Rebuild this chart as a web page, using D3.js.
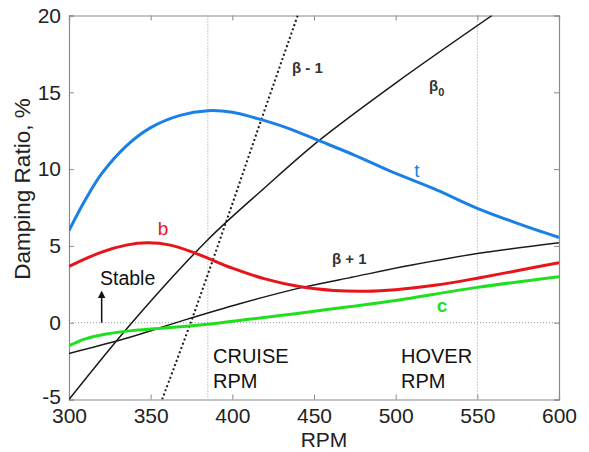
<!DOCTYPE html>
<html>
<head>
<meta charset="utf-8">
<script src="https://cdn.jsdelivr.net/npm/d3@7"></script>
<style>
  html, body { margin: 0; padding: 0; background: #fff; }
  svg { display: block; font-family: "Liberation Sans", Arial, sans-serif; }
</style>
</head>
<body>
<svg id="chart" width="589" height="452"></svg>
<script>
// Damping ratio (%) vs rotor RPM for each mode
const rpmTicks = [300, 350, 400, 450, 500, 550, 600];
const dampTicks = [-5, 0, 5, 10, 15, 20];

const tMode = [[300,6.0],[310,8.0],[320,9.7],[335,11.5],[350,12.7],[368,13.5],[385,13.8],[400,13.7],[415,13.3],[433,12.7],[453,11.85],[475,10.9],[496,9.9],[525,8.65],[550,7.45],[575,6.45],[600,5.55]];
const bMode = [[300,3.67],[320,4.6],[335,5.05],[348,5.2],[362,5.05],[378,4.5],[400,3.55],[420,2.85],[441,2.35],[462,2.1],[482,2.05],[500,2.15],[525,2.45],[550,2.9],[575,3.4],[600,3.9]];
const cMode = [[300,-1.5],[310,-1.05],[322,-0.75],[340,-0.5],[360,-0.33],[385,-0.1],[410,0.22],[441,0.62],[470,1.02],[500,1.45],[550,2.3],[600,3.0]];
const betaPlus1 = [[300,-2.0],[334,-1.05],[370,0.15],[405,1.25],[441,2.25],[475,3.0],[510,3.75],[550,4.5],[600,5.2]];
const beta0 = [[300,-5],[338.5,0],[385,5.4],[420,8.8],[453,11.85],[500,15.6],[559,20]];
const betaMinus1 = [[357,-5],[374.5,0],[396,6.5],[418,13.3],[440,20]];

const cruiseRpm = 385;
const hoverRpm = 550;
const stableArrowRpm = 320;

const svg = d3.select("#chart");
const mLeft = 69, mRight = 559, mTop = 15.5, mBottom = 399.5;

const x = d3.scaleLinear().domain([300, 600]).range([mLeft, mRight]);
const y = d3.scaleLinear().domain([-5, 20]).range([mBottom, mTop]);

const axisColor = "#8a8a8a";
const defs = svg.append("defs");

// clip region for the plotted curves
defs.append("clipPath").attr("id", "plotClip")
  .append("rect").attr("x", mLeft).attr("y", mTop)
  .attr("width", mRight - mLeft).attr("height", mBottom - mTop);

// reference lines: zero damping, cruise and hover speeds
const refs = svg.append("g").attr("stroke", "#9a9a9a").attr("stroke-width", 1)
  .attr("stroke-dasharray", "1,2").attr("fill", "none");
refs.append("line").attr("x1", mLeft).attr("x2", mRight).attr("y1", y(0)).attr("y2", y(0));
refs.append("line").attr("x1", x(cruiseRpm)).attr("x2", x(cruiseRpm)).attr("y1", mTop).attr("y2", mBottom);
refs.append("line").attr("x1", x(hoverRpm)).attr("x2", x(hoverRpm)).attr("y1", mTop).attr("y2", mBottom);

// axes with inward ticks on all four sides
const tickLen = 5;
const plainInt = d => String(d);
const gx = svg.append("g").attr("transform", `translate(0,${mBottom})`)
  .call(d3.axisBottom(x).tickValues(rpmTicks).tickSize(-tickLen).tickPadding(9).tickFormat(plainInt));
const gxTop = svg.append("g").attr("transform", `translate(0,${mTop})`)
  .call(d3.axisTop(x).tickValues(rpmTicks).tickSize(-tickLen).tickFormat(""));
const gy = svg.append("g").attr("transform", `translate(${mLeft},0)`)
  .call(d3.axisLeft(y).tickValues(dampTicks).tickSize(-tickLen).tickPadding(8).tickFormat(plainInt));
const gyRight = svg.append("g").attr("transform", `translate(${mRight},0)`)
  .call(d3.axisRight(y).tickValues(dampTicks).tickSize(-tickLen).tickFormat(""));

[gx, gxTop, gy, gyRight].forEach(g => {
  g.select(".domain").attr("stroke", axisColor).attr("stroke-width", 1.2);
  g.selectAll(".tick line").attr("stroke", axisColor);
  g.selectAll(".tick text").attr("fill", "#222").style("font-size", "21px")
    .style("font-family", "'Liberation Sans', Arial, sans-serif");
});
// the lowest damping label sits just above the corner
gy.selectAll(".tick text").filter(d => d === -5).attr("y", -3);

// axis titles
svg.append("text").attr("x", (mLeft + mRight) / 2 + 10).attr("y", 447)
  .attr("text-anchor", "middle").attr("fill", "#222").style("font-size", "21px").text("RPM");
svg.append("text").attr("transform", "translate(30,189) rotate(-90)")
  .attr("text-anchor", "middle").attr("fill", "#222").style("font-size", "22.5px").text("Damping Ratio, %");

// curves
const line = d3.line().x(d => x(d[0])).y(d => y(d[1])).curve(d3.curveCatmullRom.alpha(0.5));
const plot = svg.append("g").attr("clip-path", "url(#plotClip)").attr("fill", "none");

plot.append("path").datum(beta0).attr("d", line).attr("stroke", "#1a1a1a").attr("stroke-width", 1.5);
plot.append("path").datum(betaPlus1).attr("d", line).attr("stroke", "#1a1a1a").attr("stroke-width", 1.5);
plot.append("path").datum(betaMinus1).attr("d", line).attr("stroke", "#1a1a1a").attr("stroke-width", 2)
  .attr("stroke-dasharray", "2,2.5");
plot.append("path").datum(cMode).attr("d", line).attr("stroke", "#1ee01e").attr("stroke-width", 3);
plot.append("path").datum(bMode).attr("d", line).attr("stroke", "#e8141a").attr("stroke-width", 3);
plot.append("path").datum(tMode).attr("d", line).attr("stroke", "#1a80e6").attr("stroke-width", 3);

// curve labels
const lbl = svg.append("g");
lbl.append("text").attr("x", 163).attr("y", 235).attr("text-anchor", "middle")
  .attr("fill", "#e8141a").style("font-size", "19px").text("b");
lbl.append("text").attr("x", 417).attr("y", 177).attr("text-anchor", "middle")
  .attr("fill", "#1a80e6").style("font-size", "19px").text("t");
lbl.append("text").attr("x", 442).attr("y", 312).attr("text-anchor", "middle")
  .attr("fill", "#1ee01e").style("font-size", "19px").style("font-weight", "bold").text("c");

const greekFill = "#333", greekSize = "15px";
lbl.append("text").attr("x", 292).attr("y", 73).attr("fill", greekFill)
  .style("font-size", greekSize).style("font-weight", "bold").text("β - 1");
const b0 = lbl.append("text").attr("x", 429).attr("y", 91).attr("fill", greekFill)
  .style("font-size", greekSize).style("font-weight", "bold");
b0.append("tspan").text("β");
b0.append("tspan").attr("dy", 5).style("font-size", "11px").text("0");
lbl.append("text").attr("x", 332).attr("y", 264).attr("fill", greekFill)
  .style("font-size", greekSize).style("font-weight", "bold").text("β + 1");

// stability annotation
lbl.append("text").attr("x", 100).attr("y", 285).attr("fill", "#111")
  .style("font-size", "19.5px").text("Stable");
defs.append("marker").attr("id", "arrowHead").attr("viewBox", "0 0 10 10")
  .attr("refX", 5).attr("refY", 5).attr("markerWidth", 5).attr("markerHeight", 7)
  .attr("orient", "auto").append("path").attr("d", "M0,0 L10,5 L0,10 z").attr("fill", "#111");
svg.append("line").attr("x1", x(stableArrowRpm)).attr("x2", x(stableArrowRpm)).attr("y1", y(0)).attr("y2", y(1.85))
  .attr("stroke", "#111").attr("stroke-width", 1.5).attr("marker-end", "url(#arrowHead)");

// operating point labels
[["CRUISE", 213, 363], ["RPM", 213, 388], ["HOVER", 401, 363], ["RPM", 401, 388]].forEach(([t, tx, ty]) => {
  lbl.append("text").attr("x", tx).attr("y", ty).attr("fill", "#111").style("font-size", "20px").text(t);
});
</script>
</body>
</html>
